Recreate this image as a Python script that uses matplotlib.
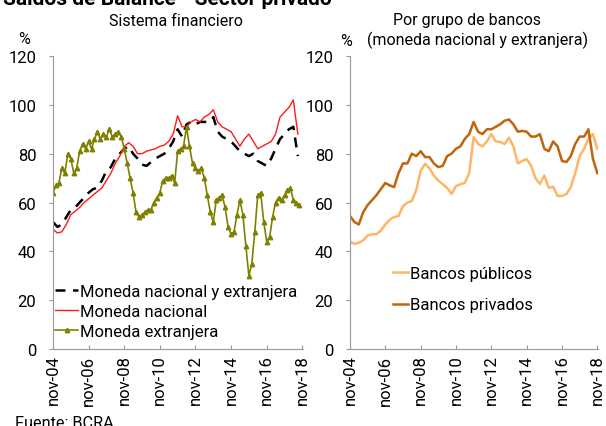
import pandas as pd
import matplotlib.pyplot as plt

plt.rcParams['font.family'] = ['Roboto', 'DejaVu Sans']

# quarterly dates for the smoother series, bimonthly for moneda extranjera
dates_left_q = pd.date_range('2004-11-01', periods=56, freq='3MS')
dates_me = pd.date_range('2004-11-01', periods=84, freq='2MS')
dates_right = pd.date_range('2004-11-01', periods=57, freq='3MS')

moneda_nacional = [49, 47.5, 48, 51, 55, 56.5, 58, 60, 61.5, 63, 64.5, 66, 69, 72, 76, 79,
                   83, 84.5, 83, 80, 80, 81, 81.5, 82, 83, 83.5, 85, 88, 95.5, 91, 91, 93,
                   94, 93, 95, 96, 98, 93, 91, 90, 89, 86, 83, 86, 88, 85, 82, 83,
                   84, 85, 88, 95, 97, 99, 102, 88]
moneda_total = [52, 50, 51, 54, 57, 58, 60, 62, 64, 65.5, 66, 69, 73, 74.5, 78, 80,
                82, 83, 80, 78, 75.5, 75, 76.5, 78, 79, 80, 82, 85, 90, 87, 92, 93,
                92, 93, 93, 93, 95, 89, 87, 86, 85, 83, 81, 80, 79, 80, 77, 76,
                75, 78, 82, 86, 88, 90, 91, 79]
moneda_extranjera = [64, 67, 68, 74, 72, 80, 78, 72, 74, 81, 84, 82, 85, 82, 86, 89,
                     86, 88, 87, 90, 87, 88, 89, 87, 82, 76, 70, 64, 56, 54, 55, 56,
                     57, 57, 60, 62, 64, 69, 70, 70, 71, 68, 81, 82, 83, 91, 83, 76,
                     74, 73, 74, 70, 63, 56, 52, 61, 62, 63, 58, 50, 47, 48, 55, 61,
                     55, 42, 30, 35, 48, 63, 64, 52, 44, 46, 54, 60, 62, 61, 63, 65,
                     66, 61, 60, 59]

bancos_publicos = [44, 43, 43.5, 44.5, 46.5, 47, 47, 48.5, 51, 53, 54, 54.5, 58.5, 60, 60.6, 65,
                   73, 75.8, 74, 71, 69, 67.5, 66, 63.5, 66.7, 67.5, 68, 72, 86.8, 84, 83, 85,
                   88, 85, 84.8, 84, 86.5, 83, 76, 77, 77.8, 75, 70, 67.6, 71, 66, 66.5, 62.7,
                   62.7, 63.5, 66.3, 72, 79, 82, 86, 88, 82]
bancos_privados = [54.5, 52, 51, 56, 59, 61, 63, 65.5, 68, 67, 66.3, 72, 76, 76, 80, 79,
                   81, 78.6, 78.6, 76, 74.5, 75, 79, 80, 82, 83, 86, 88, 93, 89, 88, 90,
                   90, 91, 92, 93.5, 94, 92, 89, 89.3, 89, 87, 87, 88, 82, 81, 85, 83,
                   77, 76.6, 79, 84, 87, 87, 90, 78, 72]

tick_years = list(range(2004, 2019, 2))
tick_dates = [pd.Timestamp(f'{y}-11-01') for y in tick_years]
tick_labels = [f'nov-{str(y)[2:]}' for y in tick_years]

W, H = 606, 427
fig = plt.figure(figsize=(W / 100, H / 100), dpi=100)
ax1 = fig.add_axes([53 / W, 77 / H, 250 / W, 293 / H])
ax2 = fig.add_axes([350 / W, 77 / H, 248 / W, 293 / H])

ax1.plot(dates_left_q, moneda_total, color='black', lw=1.8, dashes=(4, 3),
         label='Moneda nacional y extranjera')
ax1.plot(dates_left_q, moneda_nacional, color='#ff1a1a', lw=1.0, label='Moneda nacional')
ax1.plot(dates_me, moneda_extranjera, color='#808000', lw=1.2, marker='^', ms=3.2,
         label='Moneda extranjera')

ax2.plot(dates_right, bancos_publicos, color='#ffb566', lw=1.8, label='Bancos públicos')
ax2.plot(dates_right, bancos_privados, color='#c0650a', lw=1.8, label='Bancos privados')

for ax in (ax1, ax2):
    ax.set_ylim(0, 120)
    ax.set_yticks(range(0, 121, 20))
    ax.set_xlim(pd.Timestamp('2004-11-01'), pd.Timestamp('2018-11-15'))
    ax.set_xticks(tick_dates)
    ax.set_xticklabels(tick_labels, rotation=90)
    for s in ('top', 'right'):
        ax.spines[s].set_visible(False)
    for s in ('left', 'bottom'):
        ax.spines[s].set_color('#999999')
    ax.tick_params(axis='x', direction='in', length=3, color='#999999', labelsize=12, pad=4)
    ax.tick_params(axis='y', direction='out', length=3, color='#999999', labelsize=12, pad=9)

ax1.legend(loc='lower left', bbox_to_anchor=(-0.019, 0.013), borderaxespad=0,
           frameon=False, fontsize=12, handlelength=1.4, handletextpad=0.1,
           labelspacing=0.3)
ax2.legend(loc='lower left', bbox_to_anchor=(0.146, 0.102), borderaxespad=0,
           frameon=False, fontsize=12, handlelength=0.9, handletextpad=0.1,
           labelspacing=0.98)

fig.text(176 / W, 1 - 22 / H, 'Sistema financiero', ha='center', va='center', fontsize=11.5)
fig.text(467 / W, 1 - 20 / H, 'Por grupo de bancos', ha='center', va='center', fontsize=11.5)
fig.text(478 / W, 1 - 40 / H, '(moneda nacional y extranjera)', ha='center', va='center',
         fontsize=11.5)
fig.text(24 / W, 1 - 40 / H, '%', ha='center', va='center', fontsize=11.5)
fig.text(346 / W, 1 - 42 / H, '%', ha='center', va='center', fontsize=11.5)
fig.text(3 / W, 1 - 5 / H, 'Saldos de Balance - Sector privado', ha='left', va='baseline',
         fontsize=15, fontweight='bold')
fig.text(15 / W, -1 / H, 'Fuente: BCRA', ha='left', va='baseline', fontsize=11.7)

fig.savefig('out.png', dpi=100)
